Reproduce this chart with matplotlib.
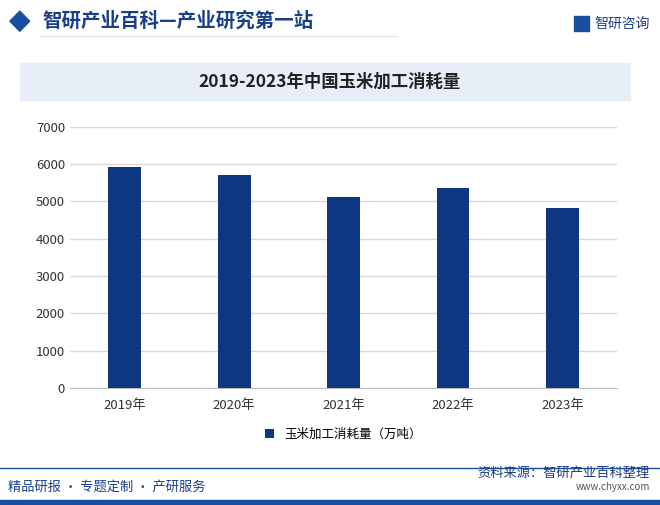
import matplotlib
matplotlib.use("Agg")
import matplotlib.pyplot as plt
from matplotlib.patches import Rectangle, Polygon

plt.rcParams['font.family'] = ['Noto Sans CJK SC', 'DejaVu Sans']

years = ["2019年", "2020年", "2021年", "2022年", "2023年"]
values = [5930, 5710, 5120, 5360, 4820]
series_name = "玉米加工消耗量（万吨）"
title = "2019-2023年中国玉米加工消耗量"
yticks = [0, 1000, 2000, 3000, 4000, 5000, 6000, 7000]

BLUE = "#0e3782"
fig = plt.figure(figsize=(6.6, 5.05), dpi=100)

# header
fig.add_artist(Polygon([[0.015, 0.958], [0.03, 0.978], [0.045, 0.958], [0.03, 0.938]], closed=True,
                       transform=fig.transFigure, color="#1a4fa0"))
fig.text(0.065, 0.958, "智研产业百科—产业研究第一站", fontsize=14, fontweight='bold', color="#1a3f8a", va='center')
fig.add_artist(plt.Line2D([0.06, 0.6], [0.928, 0.928], transform=fig.transFigure, color="#dce6f2", lw=1))
fig.text(0.985, 0.952, "智研咨询", fontsize=10, color="#1a3f8a", va='center', ha='right')
fig.add_artist(Rectangle((0.87, 0.938), 0.022, 0.03, transform=fig.transFigure, color="#1a4fa0"))

# title box
fig.add_artist(Rectangle((0.03, 0.802), 0.925, 0.073, transform=fig.transFigure, color="#e8eef8"))
fig.text(0.5, 0.838, title, fontsize=12.5, fontweight='bold', ha='center', va='center', color="#222222")

ax = fig.add_axes([0.106, 0.232, 0.829, 0.517])
x = range(len(years))
ax.bar(x, values, width=0.3, color=BLUE, label=series_name, zorder=3)
ax.set_ylim(0, 7000)
ax.set_yticks(yticks)
ax.set_xticks(list(x))
ax.set_xticklabels(years)
ax.set_xlim(-0.5, 4.5)
ax.grid(axis='y', color="#d9d9d9", lw=1, zorder=0)
for s in ['top', 'right', 'left']:
    ax.spines[s].set_visible(False)
ax.spines['bottom'].set_color("#bfbfbf")
ax.tick_params(axis='both', length=0, labelsize=9.5, colors="#333333")
ax.tick_params(axis='x', pad=8)
ax.legend(loc='upper center', bbox_to_anchor=(0.5, -0.11), frameon=False, fontsize=9,
          handlelength=0.7, handleheight=0.7)

# footer
fig.add_artist(plt.Line2D([0.0, 1.0], [0.074, 0.074], transform=fig.transFigure, color="#1a4fa0", lw=1))
fig.text(0.985, 0.063, "资料来源：智研产业百科整理", fontsize=9.5, ha='right', va='center', color="#1a3f8a")
fig.text(0.985, 0.036, "www.chyxx.com", fontsize=7, ha='right', va='center', color="#555555")
fig.text(0.012, 0.036, "精品研报 · 专题定制 · 产研服务", fontsize=9.5, ha='left', va='center', color="#1a3f8a")
fig.add_artist(Rectangle((0, 0), 1, 0.01, transform=fig.transFigure, color="#1a4fa0"))

fig.savefig("out.png", dpi=100)
